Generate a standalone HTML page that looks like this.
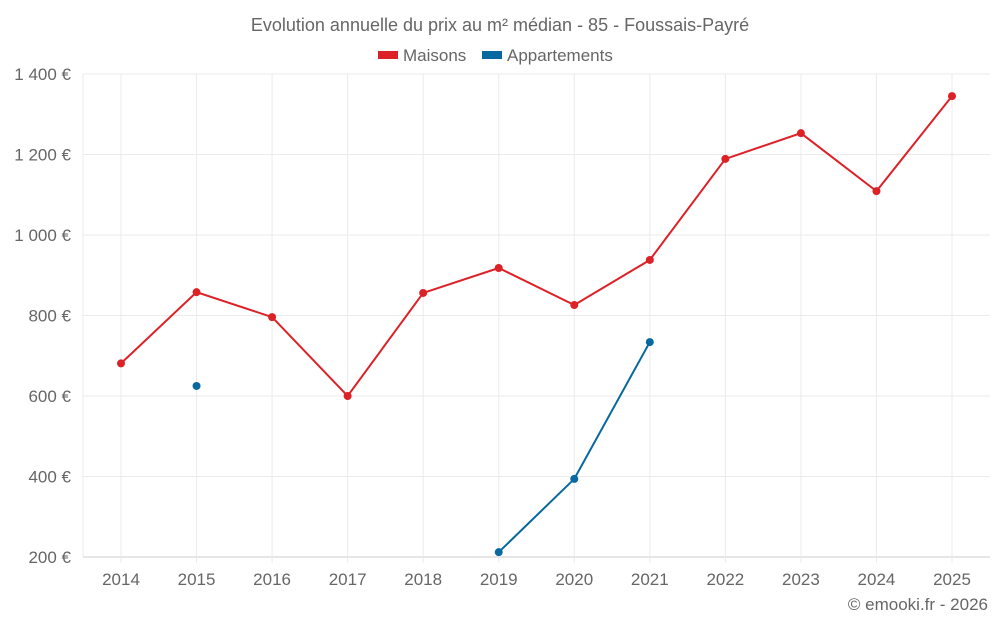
<!DOCTYPE html>
<html><head><meta charset="utf-8"><style>
body{margin:0;background:#fff;font-family:"Liberation Sans",sans-serif;}
svg text{font-family:"Liberation Sans",sans-serif;fill:#666;}
</style></head><body>
<svg id="c" width="1000" height="625">
<text x="500" y="31" text-anchor="middle" font-size="18">Evolution annuelle du prix au m² médian - 85 - Foussais-Payré</text>
<g>
<g><rect x="378" y="51" width="20" height="8" fill="#dc2127"/><text x="403" y="61" font-size="17">Maisons</text></g>
<g><rect x="482" y="51" width="20" height="8" fill="#0868a0"/><text x="507" y="61" font-size="17">Appartements</text></g>
</g>
<g id="grid"></g><g id="axes"></g><g id="series"></g>
<text x="988" y="610" text-anchor="end" font-size="17">© emooki.fr - 2026</text>
</svg>
<script>
const years=[2014,2015,2016,2017,2018,2019,2020,2021,2022,2023,2024,2025];
const maisons=[681,858,796,600,856,918,826,938,1189,1253,1109,1345];
const apparts=[null,625,null,null,null,212,394,734,null,null,null,null];
const yTicks=[200,400,600,800,1000,1200,1400];
const yLabels=["200 €","400 €","600 €","800 €","1 000 €","1 200 €","1 400 €"];
const L=83,R=990,T=74,B=557;
const xs=i=>121+i*(952-121)/(years.length-1);
const ys=v=>B-(v-200)/(1400-200)*(B-T);
const NS="http://www.w3.org/2000/svg";
function mk(p,t,a){const e=document.createElementNS(NS,t);for(const k in a)e.setAttribute(k,a[k]);p.appendChild(e);return e;}
const g=document.getElementById('grid'),ax=document.getElementById('axes'),s=document.getElementById('series');
yTicks.forEach((v,i)=>{
 const l=mk(g,'line',{x1:L,x2:R,y1:ys(v),y2:ys(v),stroke:i==0?'#ccc':'#ebebeb'});
 
 
 const t=mk(ax,'text',{x:71,y:ys(v)+6,'text-anchor':'end','font-size':17});t.textContent=yLabels[i];
 
 
});
years.forEach((y,i)=>{
 const l=mk(g,'line',{x1:xs(i),x2:xs(i),y1:T,y2:B+6,stroke:'#ebebeb'});
 
 
 const t=mk(ax,'text',{x:xs(i),y:585,'text-anchor':'middle','font-size':17});t.textContent=y;
 
 
});
mk(g,'line',{x1:L,x2:L,y1:T,y2:B,stroke:'#ebebeb'});
function draw(data,color,name){
 let d='',pen=false;
 data.forEach((v,i)=>{if(v==null){pen=false;return;}d+=(pen?'L':'M')+xs(i)+','+ys(v);pen=true;});
 const p=mk(s,'path',{d:d,fill:'none',stroke:color,'stroke-width':2});
 
 
 data.forEach((v,i)=>{if(v==null)return;
  const c=mk(s,'circle',{cx:xs(i),cy:ys(v),r:4,fill:color});
  
  
 });
}
draw(maisons,'#dc2127','maisons');
draw(apparts,'#0868a0','appartements');
</script>
</body></html>
